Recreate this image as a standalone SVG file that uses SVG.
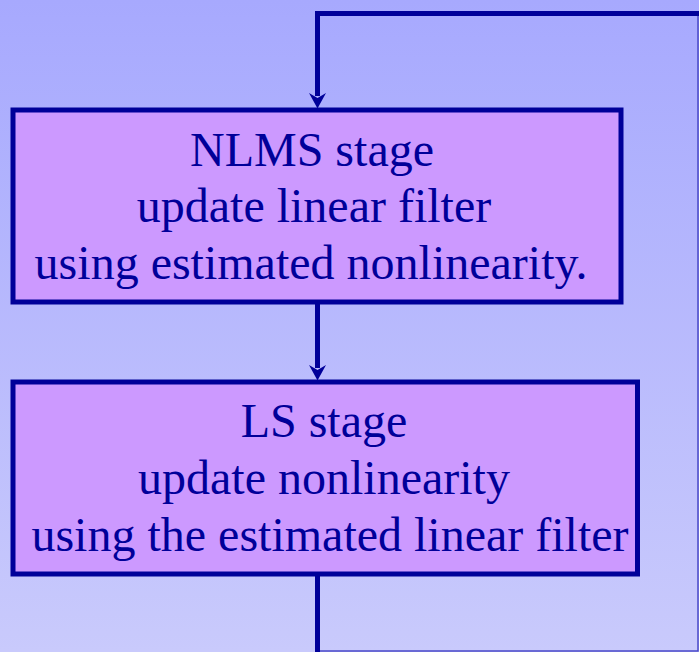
<svg xmlns="http://www.w3.org/2000/svg" width="699" height="652" viewBox="0 0 699 652">
  <defs>
    <linearGradient id="bg" x1="0" y1="0" x2="0" y2="1">
      <stop offset="0" stop-color="#a7a9fe"/>
      <stop offset="1" stop-color="#c9cafc"/>
    </linearGradient>
    <style>
      .box { fill: #cc99ff; stroke: #000099; stroke-width: 5; }
      .txt { font-family: "Liberation Serif", "Times New Roman", serif; font-size: 48px; fill: #000099; text-anchor: middle; }
      .thick { fill: none; stroke: #000099; stroke-width: 5; }
      .thin { fill: none; stroke: #4a4ac8; stroke-width: 1.5; }
      .head { fill: #000099; }
    </style>
  </defs>
  <rect x="0" y="0" width="699" height="652" fill="url(#bg)"/>
  <g id="connectors">
    <polyline class="thick" points="699,13.5 317.5,13.5 317.5,96"/>
    <path class="head" d="M317.5,108.5 L309,93 L317.5,98 L326,93 Z"/>
    <line class="thick" x1="317.5" y1="302" x2="317.5" y2="368"/>
    <path class="head" d="M317.5,380.5 L309,365 L317.5,370 L326,365 Z"/>
    <line class="thick" x1="317.5" y1="574" x2="317.5" y2="652"/>
    <polyline class="thin" points="320,651 698,651 698,16"/>
  </g>
  <g id="nlms">
    <rect class="box" x="13" y="110" width="608" height="192"/>
    <text class="txt" x="312" y="165.5">NLMS stage</text>
    <text class="txt" x="314" y="222">update linear filter</text>
    <text class="txt" x="311" y="279">using estimated nonlinearity.</text>
  </g>
  <g id="ls">
    <rect class="box" x="13" y="382" width="624.5" height="192"/>
    <text class="txt" x="324" y="437">LS stage</text>
    <text class="txt" x="324" y="494">update nonlinearity</text>
    <text class="txt" x="330" y="551">using the estimated linear filter</text>
  </g>
</svg>
